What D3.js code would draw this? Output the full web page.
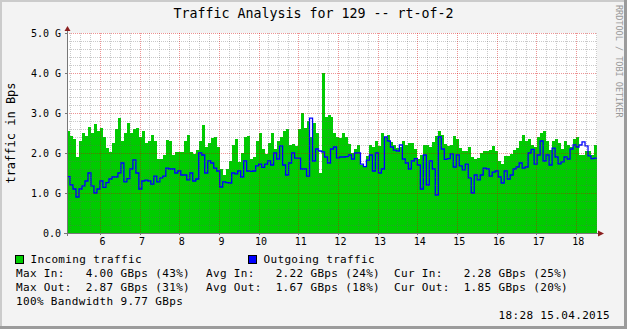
<!DOCTYPE html>
<html>
<head>
<meta charset="utf-8">
<script src="https://cdn.jsdelivr.net/npm/d3@7"></script>
<style>
  body { margin: 0; background: #f3f3f3; }
  svg text { font-family: "DejaVu Sans Mono", monospace; white-space: pre; }
</style>
</head>
<body>
<script>
// chart values (Gbps), one sample per step
const startHour = 5.17;
const stepHour = 0.0755;

const incoming = [
  2.55,2.42,2.34,1.9,2.3,2.5,2.42,2.65,2.5,2.72,2.55,2.62,2.4,2.12,2.02,2.25,2.6,2.88,2.3,2.5,2.75,2.5,2.6,2.62,2.4,2.55,2.25,2.3,2.45,2.3,
  1.85,1.85,1.95,2.32,2.3,1.95,2.03,2.02,2.02,2.3,2.45,2.03,1.97,2.07,2.3,2.7,2.15,2.24,2.38,2.4,2.15,1.6,1.45,1.6,1.8,2.2,2.35,1.78,2.0,2.4,
  2.42,1.85,1.9,2.3,2.5,2.1,1.98,2.25,2.5,2.1,2.3,2.4,2.55,2.6,2.2,2.23,2.18,2.6,3.0,2.62,2.8,2.4,2.75,2.5,1.5,4.0,2.9,2.95,2.9,2.5,
  2.4,2.38,2.5,2.4,2.22,2.0,2.1,2.2,1.7,1.65,1.92,2.2,2.15,2.3,2.17,2.5,2.4,2.45,2.27,2.2,2.12,2.15,2.3,2.2,2.25,2.25,2.1,1.85,1.95,2.2,
  2.2,2.15,2.28,2.42,2.56,2.45,2.22,2.18,2.2,2.43,2.35,2.12,2.05,2.05,2.15,1.9,1.86,1.88,2.0,2.05,2.05,2.07,2.18,2.05,1.8,1.72,1.92,1.92,1.98,2.07,
  2.12,2.3,2.45,2.3,2.35,2.2,2.15,2.4,2.5,2.55,2.3,2.08,2.3,2.35,2.25,2.1,2.3,2.2,2.15,2.35,2.4,1.95,1.95,2.05,2.05,1.95,2.2
];

const outgoing = [
  1.41,1.2,1.1,0.9,1.1,1.18,1.3,1.5,1.18,1.0,1.1,1.3,1.14,1.26,1.35,1.4,1.4,1.5,1.75,1.28,1.36,1.6,1.83,1.5,1.1,1.3,1.32,1.3,1.22,1.42,
  1.28,1.38,1.42,1.62,1.6,1.6,1.5,1.55,1.45,1.45,1.33,1.5,1.3,1.35,2.0,1.95,1.5,1.8,1.75,1.62,1.55,1.15,1.28,1.26,1.25,1.5,1.48,1.55,1.4,1.8,
  1.55,1.54,1.55,1.68,1.72,1.64,1.72,1.8,1.7,2.0,1.85,2.18,1.7,1.45,1.75,2.0,1.87,1.87,1.6,1.6,1.42,2.87,1.8,2.1,2.05,2.03,1.9,1.75,2.1,2.15,
  1.88,1.9,1.9,1.91,1.95,1.85,2.0,2.0,1.72,1.66,1.82,1.95,1.55,2.0,1.5,1.6,2.4,2.3,2.15,2.07,2.05,2.2,1.85,1.75,1.6,1.8,1.86,1.7,1.1,1.95,
  1.2,1.8,1.6,0.95,2.4,2.1,1.84,1.86,1.98,1.65,1.95,1.68,1.58,1.72,1.38,1.0,1.45,1.33,1.45,1.62,1.6,1.42,1.52,1.55,1.4,1.25,1.55,1.35,1.45,1.6,
  1.65,1.75,1.62,1.65,2.0,2.09,1.72,1.95,2.3,1.8,1.95,1.7,2.12,1.9,1.73,1.78,1.9,1.85,2.1,2.2,2.15,2.2,2.28,2.18,1.93,1.86,1.87
];

const hourTicks = [6,7,8,9,10,11,12,13,14,15,16,17,18];
const valueTicks = [0,1,2,3,4,5];
const valueTickLabels = ["0.0","1.0 G","2.0 G","3.0 G","4.0 G","5.0 G"];

const titleText = "Traffic Analysis for 129 -- rt-of-2";
const legendNames = ["Incoming traffic","Outgoing traffic"];
const statsIn = ["Max In:   4.00 GBps (43%)","Avg In:   2.22 GBps (24%)","Cur In:   2.28 GBps (25%)"];
const statsOut = ["Max Out:  2.87 GBps (31%)","Avg Out:  1.67 GBps (18%)","Cur Out:  1.85 GBps (20%)"];
const bandwidthText = "100% Bandwidth 9.77 GBps";
const stampText = "18:28 15.04.2015";

const W = 627, H = 329;
const plot = { left: 67, right: 597, top: 33, bottom: 233 };

const svg = d3.select("body").append("svg")
  .attr("width", W)
  .attr("height", H);

// background with shaded frame
svg.append("rect").attr("width", W).attr("height", H).style("fill", "#f3f3f3");
svg.append("rect").attr("x", 0).attr("y", 0).attr("width", W).attr("height", 2).style("fill", "#cbcbcb");
svg.append("rect").attr("x", 0).attr("y", 0).attr("width", 2).attr("height", H).style("fill", "#cbcbcb");
svg.append("rect").attr("x", 0).attr("y", H - 3).attr("width", W).attr("height", 3).style("fill", "#9b9b9b");
svg.append("rect").attr("x", W - 3).attr("y", 0).attr("width", 3).attr("height", H).style("fill", "#9b9b9b");

// scales
const endHour = startHour + incoming.length * stepHour;
const x = d3.scaleLinear().domain([startHour, endHour]).range([plot.left, plot.right]);
const y = d3.scaleLinear().domain([0, 5]).range([plot.bottom, plot.top]);

// canvas
svg.append("rect")
  .attr("x", plot.left).attr("y", plot.top)
  .attr("width", plot.right - plot.left).attr("height", plot.bottom - plot.top)
  .style("fill", "#ffffff");

const toPoints = (arr) => {
  const pts = arr.map((v, i) => ({ t: startHour + i * stepHour, v: v }));
  pts.push({ t: endHour, v: arr[arr.length - 1] });
  return pts;
};

// incoming area
svg.append("path")
  .datum(toPoints(incoming))
  .attr("d", d3.area().curve(d3.curveStepAfter)
    .x(d => x(d.t)).y0(y(0)).y1(d => y(d.v)))
  .style("fill", "#00cc00")
  .style("shape-rendering", "crispEdges");

// outgoing line
svg.append("path")
  .datum(toPoints(outgoing))
  .attr("d", d3.line().curve(d3.curveStepAfter)
    .x(d => x(d.t)).y(d => y(d.v)))
  .style("fill", "none")
  .style("stroke", "#0000ff")
  .style("stroke-width", 1.3);

// grid (drawn on top, translucent)
const grid = svg.append("g").style("shape-rendering", "crispEdges");
const minorHours = d3.range(Math.ceil(startHour * 4), Math.floor(endHour * 4) + 1).map(q => q / 4)
  .filter(h => !hourTicks.includes(h));
const minorVals = d3.range(1, 25).map(v => v / 5).filter(v => Math.abs(v - Math.round(v)) > 0.01);
const minorColor = "rgba(100,100,100,0.34)";
const majorColor = "rgba(215,0,0,0.42)";

grid.selectAll(".vminor").data(minorHours).enter().append("line")
  .attr("x1", d => Math.round(x(d)) + 0.5).attr("x2", d => Math.round(x(d)) + 0.5)
  .attr("y1", plot.top).attr("y2", plot.bottom)
  .style("stroke", minorColor).style("stroke-dasharray", "1,1");
grid.selectAll(".hminor").data(minorVals).enter().append("line")
  .attr("x1", plot.left).attr("x2", plot.right)
  .attr("y1", d => Math.round(y(d)) + 0.5).attr("y2", d => Math.round(y(d)) + 0.5)
  .style("stroke", minorColor).style("stroke-dasharray", "1,1");
grid.selectAll(".vmajor").data(hourTicks).enter().append("line")
  .attr("x1", d => Math.round(x(d)) + 0.5).attr("x2", d => Math.round(x(d)) + 0.5)
  .attr("y1", plot.top).attr("y2", plot.bottom)
  .style("stroke", majorColor).style("stroke-dasharray", "1,1");
grid.selectAll(".hmajor").data(valueTicks.slice(1)).enter().append("line")
  .attr("x1", plot.left).attr("x2", plot.right)
  .attr("y1", d => Math.round(y(d)) + 0.5).attr("y2", d => Math.round(y(d)) + 0.5)
  .style("stroke", majorColor).style("stroke-dasharray", "1,1");

// axes
const xAxis = svg.append("g")
  .attr("transform", `translate(0,${plot.bottom})`)
  .call(d3.axisBottom(x).tickValues(hourTicks).tickSize(2).tickPadding(3).tickFormat(d3.format("d")));
const yAxis = svg.append("g")
  .attr("transform", `translate(${plot.left},0)`)
  .call(d3.axisLeft(y).tickValues(valueTicks).tickSize(2).tickPadding(4).tickFormat((d, i) => valueTickLabels[i]));

[xAxis, yAxis].forEach(a => {
  a.select(".domain").remove();
  a.selectAll("line").style("stroke", "#777").style("shape-rendering", "crispEdges");
  a.selectAll("text").style("font-family", "DejaVu Sans Mono, monospace")
    .style("font-size", "10px").style("fill", "#000");
});
xAxis.selectAll("text").attr("dx", 2);

// axis lines and arrows
svg.append("line")
  .attr("x1", plot.left - 3).attr("x2", plot.right + 2)
  .attr("y1", plot.bottom + 0.5).attr("y2", plot.bottom + 0.5)
  .style("stroke", "#777");
svg.append("line")
  .attr("x1", plot.left + 0.5).attr("x2", plot.left + 0.5)
  .attr("y1", plot.bottom + 3).attr("y2", plot.top - 3)
  .style("stroke", "#777");
svg.append("path")
  .attr("d", `M${plot.right + 1},${plot.bottom - 2.5}L${plot.right + 7},${plot.bottom + 0.5}L${plot.right + 1},${plot.bottom + 3.5}Z`)
  .style("fill", "#8b1f1f");
svg.append("path")
  .attr("d", `M${plot.left - 2.5},${plot.top - 2}L${plot.left + 0.5},${plot.top - 7}L${plot.left + 3.5},${plot.top - 2}Z`)
  .style("fill", "#8b1f1f");

// title
svg.append("text")
  .attr("x", W / 2).attr("y", 18)
  .attr("text-anchor", "middle")
  .style("font-size", "13.3px")
  .text(titleText);

// vertical axis label
svg.append("text")
  .attr("transform", `translate(15,${(plot.top + plot.bottom) / 2}) rotate(-90)`)
  .attr("text-anchor", "middle")
  .style("font-size", "12px")
  .text("traffic in Bps");

// watermark
svg.append("text")
  .attr("transform", "translate(616,5) rotate(90)")
  .style("font-size", "8.5px")
  .style("fill", "#999999")
  .text("RRDTOOL / TOBI OETIKER");

// legend
const legend = svg.append("g").style("font-size", "11px").style("letter-spacing", "0.34px");
const swatchColors = ["#00cc00", "#0000ff"];
const swatchX = [15.5, 248.5];
legendNames.forEach((name, i) => {
  legend.append("rect")
    .attr("x", swatchX[i]).attr("y", 255.5).attr("width", 8).attr("height", 8)
    .style("fill", swatchColors[i]).style("stroke", "#000");
  legend.append("text").attr("x", swatchX[i] + 15).attr("y", 263).text(name);
});
const colX = [16, 206, 394];
statsIn.forEach((s, i) => legend.append("text").attr("x", colX[i]).attr("y", 277).text(s));
statsOut.forEach((s, i) => legend.append("text").attr("x", colX[i]).attr("y", 291).text(s));
legend.append("text").attr("x", 16).attr("y", 305).text(bandwidthText);
legend.append("text").attr("x", 610).attr("y", 319).attr("text-anchor", "end").text(stampText);
</script>
</body>
</html>
